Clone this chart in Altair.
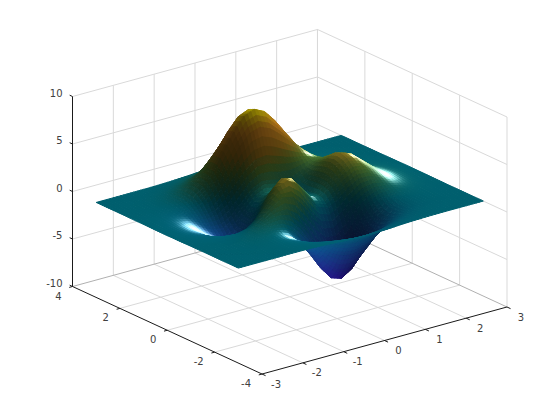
import altair as alt
import pandas as pd
import math

alt.data_transformers.disable_max_rows()

# surface samples, one row per x (-3 .. 3), one value per y (-3 .. 3), step 0.25
xs = [-3 + 0.25 * i for i in range(25)]
ys = [-3 + 0.25 * i for i in range(25)]
z_rows = [
[0,0,0,0,0,0,0,0,-.01,-.02,-.03,-.03,-.04,-.03,-.03,-.02,-.01,-.01,0,0,0,0,0,0,0],
[0,0,0,0,0,0,0,-.01,-.02,-.05,-.08,-.10,-.11,-.11,-.09,-.07,-.04,-.02,-.01,0,0,0,0,0,0],
[0,0,0,.01,.01,.01,.01,-.01,-.06,-.12,-.20,-.27,-.30,-.29,-.25,-.18,-.11,-.06,-.02,0,.01,.01,0,0,0],
[0,0,.01,.01,.02,.03,.03,-.01,-.10,-.25,-.44,-.60,-.69,-.67,-.57,-.42,-.25,-.12,-.03,.01,.02,.02,.01,0,0],
[0,.01,.01,.03,.05,.07,.08,.03,-.13,-.42,-.80,-1.14,-1.33,-1.32,-1.12,-.81,-.48,-.20,-.01,.07,.08,.06,.03,.01,.01],
[.01,.01,.02,.04,.07,.13,.19,.17,-.04,-.51,-1.16,-1.78,-2.14,-2.16,-1.85,-1.33,-.74,-.23,.11,.24,.23,.15,.08,.04,.01],
[0,0,0,.01,.05,.15,.33,.45,.30,-.28,-1.21,-2.16,-2.77,-2.87,-2.49,-1.76,-.86,-.05,.48,.65,.55,.36,.19,.08,.03],
[-.01,-.02,-.07,-.12,-.13,.02,.39,.83,.98,.49,-.60,-1.84,-2.71,-2.98,-2.64,-1.78,-.60,.55,1.27,1.43,1.16,.74,.39,.17,.06],
[-.03,-.10,-.23,-.44,-.59,-.46,.15,1.11,1.86,1.78,.80,-.57,-1.65,-2.15,-2.00,-1.16,.23,1.70,2.61,2.67,2.10,1.32,.69,.30,.11],
[-.08,-.22,-.52,-.99,-1.45,-1.48,-.68,.88,2.45,3.09,2.49,1.23,.06,-.65,-.76,-.05,1.51,3.29,4.37,4.29,3.31,2.07,1.07,.47,.17],
[-.14,-.39,-.91,-1.74,-2.64,-3.01,-2.18,-.14,2.22,3.63,3.55,2.56,1.48,.68,.39,1.04,2.79,4.92,6.19,5.96,4.56,2.84,1.46,.64,.23],
[-.20,-.56,-1.30,-2.51,-3.88,-4.70,-4.07,-1.85,.99,2.94,3.31,2.62,1.75,1.06,.79,1.55,3.59,6.07,7.54,7.22,5.51,3.43,1.77,.77,.28],
[-.25,-.68,-1.56,-3.02,-4.76,-5.98,-5.68,-3.61,-.73,1.40,2.00,1.58,.98,.52,.46,1.42,3.69,6.39,7.99,7.68,5.86,3.65,1.88,.82,.30],
[-.25,-.70,-1.60,-3.10,-4.93,-6.33,-6.32,-4.61,-2.02,0,.70,.52,.19,-.03,.09,1.12,3.34,5.94,7.48,7.20,5.50,3.43,1.77,.77,.28],
[-.22,-.61,-1.40,-2.72,-4.35,-5.64,-5.76,-4.40,-2.22,-.41,.39,.48,.37,.28,.37,1.17,2.94,5.02,6.25,5.99,4.57,2.84,1.46,.64,.23],
[-.17,-.46,-1.06,-2.05,-3.27,-4.24,-4.31,-3.22,-1.43,.20,1.14,1.50,1.57,1.47,1.34,1.65,2.66,3.97,4.72,4.45,3.37,2.09,1.07,.47,.17],
[-.11,-.30,-.69,-1.32,-2.10,-2.69,-2.63,-1.74,-.27,1.18,2.20,2.76,2.94,2.76,2.38,2.17,2.43,2.97,3.25,2.96,2.21,1.36,.70,.30,.11],
[-.06,-.17,-.38,-.73,-1.15,-1.42,-1.27,-.56,.58,1.79,2.76,3.37,3.58,3.36,2.83,2.32,2.08,2.09,2.05,1.78,1.29,.79,.40,.17,.06],
[-.03,-.08,-.18,-.35,-.53,-.61,-.44,.08,.88,1.78,2.56,3.09,3.27,3.06,2.56,1.99,1.58,1.35,1.18,.96,.68,.41,.20,.09,.03],
[-.01,-.03,-.08,-.14,-.20,-.20,-.07,.27,.77,1.35,1.88,2.25,2.37,2.22,1.85,1.40,1.04,.79,.62,.47,.32,.19,.09,.04,.01],
[0,-.01,-.03,-.05,-.06,-.04,.04,.23,.50,.82,1.12,1.34,1.41,1.32,1.09,.82,.58,.41,.29,.21,.13,.08,.04,.02,.01],
[0,0,-.01,-.01,-.01,0,.05,.13,.26,.41,.56,.67,.70,.66,.54,.40,.28,.19,.12,.08,.05,.03,.01,.01,0],
[0,0,0,0,0,.01,.03,.06,.11,.18,.24,.28,.30,.28,.23,.17,.11,.07,.05,.03,.02,.01,0,0,0],
[0,0,0,0,0,0,.01,.02,.04,.06,.09,.10,.11,.10,.08,.06,.04,.03,.02,.01,0,0,0,0,0],
[0,0,0,0,0,0,0,.01,.01,.02,.03,.03,.03,.03,.03,.02,.01,.01,0,0,0,0,0,0,0],
]
x_ticks = [-3, -2, -1, 0, 1, 2, 3]
y_ticks = [-4, -2, 0, 2, 4]
z_ticks = [-10, -5, 0, 5, 10]

# view of the box
CX, CY = 289.75, 201.75
AX, AY = 40.83, -11.17
BX, BY = -23.69, -10.94
CZ = -9.5

def sx(x, y, z):
    return CX + AX * x + BX * y

def sy(x, y, z):
    return CY + AY * x + BY * y + CZ * z

# colour seen on a level patch at each height
STOPS = [(-6.5, (34, 12, 120)), (-4, (28, 50, 140)), (-2, (14, 78, 140)), (0, (0, 95, 110)),
         (1, (25, 100, 80)), (2.5, (75, 110, 40)), (4, (150, 110, 25)), (6, (195, 125, 30)),
         (8, (175, 165, 0))]
S = 0.26
L = (0.45, 0.15, 0.88)
Hn = math.sqrt(0.62**2 + 0.2**2 + 1)
H = (0.62 / Hn, -0.2 / Hn, 1 / Hn)
AMB, DIF = 0.33, 0.67
SPEC, POW = 1.0, 55
SUB = 3  # shading patches per grid cell side, like a renderer's interpolated shading

def base(z):
    if z <= STOPS[0][0]:
        return STOPS[0][1]
    for (a, ca), (b, cb) in zip(STOPS, STOPS[1:]):
        if z <= b:
            t = (z - a) / (b - a)
            return tuple(ca[k] + (cb[k] - ca[k]) * t for k in range(3))
    return STOPS[-1][1]

def shade(zm, zx, zy):
    nx, ny, nz = -S * zx, -S * zy, 1.0
    m = math.sqrt(nx * nx + ny * ny + nz * nz)
    nx, ny, nz = nx / m, ny / m, nz / m
    d = max(nx * L[0] + ny * L[1] + nz * L[2], 0) / L[2]
    f = AMB + DIF * d
    s = SPEC * max(nx * H[0] + ny * H[1] + nz * H[2], 0) ** POW
    c = base(zm)
    rgb = [min(255, max(0, v * f + 255 * s)) for v in c]
    return "#%02x%02x%02x" % tuple(int(round(v)) for v in rgb)

n = len(xs)
def grad(i, j):
    a, b = max(i - 1, 0), min(i + 1, n - 1)
    c, d = max(j - 1, 0), min(j + 1, n - 1)
    return ((z_rows[b][j] - z_rows[a][j]) / (xs[b] - xs[a]),
            (z_rows[i][d] - z_rows[i][c]) / (ys[d] - ys[c]))
G = [[grad(i, j) for j in range(n)] for i in range(n)]

def bil(v00, v10, v11, v01, u, w):
    return v00 * (1 - u) * (1 - w) + v10 * u * (1 - w) + v11 * u * w + v01 * (1 - u) * w

rows = []
q = 0
for i in range(n - 2, -1, -1):
    for j in range(n - 2, -1, -1):
        a, b, c, d = z_rows[i][j], z_rows[i + 1][j], z_rows[i + 1][j + 1], z_rows[i][j + 1]
        ga, gb, gc, gd = G[i][j], G[i + 1][j], G[i + 1][j + 1], G[i][j + 1]
        for si in range(SUB - 1, -1, -1):
            for sj in range(SUB - 1, -1, -1):
                um, wm = (si + 0.5) / SUB, (sj + 0.5) / SUB
                col = shade(bil(a, b, c, d, um, wm),
                            bil(ga[0], gb[0], gc[0], gd[0], um, wm),
                            bil(ga[1], gb[1], gc[1], gd[1], um, wm))
                for k, (du, dw) in enumerate([(0, 0), (1, 0), (1, 1), (0, 1), (0, 0)]):
                    u, w = (si + du) / SUB, (sj + dw) / SUB
                    x = xs[i] + (xs[i + 1] - xs[i]) * u
                    y = ys[j] + (ys[j + 1] - ys[j]) * w
                    z = bil(a, b, c, d, u, w)
                    rows.append({"q": q, "k": k, "px": round(sx(x, y, z), 2),
                                 "py": round(sy(x, y, z), 2), "c": col})
                q += 1
surface_df = pd.DataFrame(rows)

def segs(pairs):
    out = []
    for p, r in pairs:
        out.append({"px": sx(*p), "py": sy(*p), "px2": sx(*r), "py2": sy(*r)})
    return pd.DataFrame(out)

x0, x1, y0, y1, z0, z1 = -3, 3, -4, 4, -10, 10
grid_pairs = []
for x in x_ticks:
    if x != x0:
        grid_pairs.append(((x, y1, z0), (x, y1, z1)))
    if x != x0 and x != x1:
        grid_pairs.append(((x, y0, z0), (x, y1, z0)))
for y in y_ticks:
    grid_pairs.append(((x1, y, z0), (x1, y, z1)))
    if y != y0 and y != y1:
        grid_pairs.append(((x0, y, z0), (x1, y, z0)))
for z in z_ticks:
    if z != z0:
        grid_pairs.append(((x0, y1, z), (x1, y1, z)))
        grid_pairs.append(((x1, y0, z), (x1, y1, z)))
edge_pairs = [((x0, y1, z0), (x1, y1, z0)), ((x1, y0, z0), (x1, y1, z0))]
axis_pairs = [((x0, y1, z0), (x0, y1, z1)), ((x0, y0, z0), (x0, y1, z0)), ((x0, y0, z0), (x1, y0, z0))]
for x in x_ticks:
    axis_pairs.append(((x, y0, z0), (x, y0 - 0.15, z0)))
for y in y_ticks:
    axis_pairs.append(((x0, y, z0), (x0 - 0.08, y, z0)))
for z in z_ticks:
    axis_pairs.append(((x0, y1, z), (x0, y1 + 0.12, z)))

def labels(items):
    return pd.DataFrame([{"px": sx(*p), "py": sy(*p), "t": str(t)} for p, t in items])

X = alt.X("px:Q", axis=None, scale=alt.Scale(domain=[8, 552], nice=False, zero=False))
Y = alt.Y("py:Q", axis=None, scale=alt.Scale(domain=[412, 8], nice=False, zero=False))

def rule(df, color, w):
    return alt.Chart(df).mark_rule(color=color, strokeWidth=w).encode(
        x=X, y=Y, x2="px2:Q", y2="py2:Q")

def text(df, **kw):
    return alt.Chart(df).mark_text(font="DejaVu Sans", fontSize=10, color="#404040", **kw).encode(
        x=X, y=Y, text="t:N")

surface = alt.Chart(surface_df).mark_line(strokeWidth=1).encode(
    x=X, y=Y,
    detail="q:N",
    order="k:Q",
    fill=alt.Fill("c:N", scale=None),
    stroke=alt.Stroke("c:N", scale=None),
)

chart = alt.layer(
    rule(segs(grid_pairs), "#d9d9d9", 1),
    rule(segs(edge_pairs), "#b0b0b0", 1),
    surface,
    rule(segs(axis_pairs), "#1a1a1a", 1),
    text(labels([((x0, y1, z), z) for z in z_ticks]), align="right", baseline="middle", dx=-10, dy=-3),
    text(labels([((x0, y, z0), y) for y in y_ticks]), align="right", baseline="middle", dx=-11, dy=10),
    text(labels([((x, y0, z0), x) for x in x_ticks]), align="center", baseline="middle", dx=14, dy=10.5),
).properties(width=544, height=404, padding=0, autosize=alt.AutoSizeParams(type="none")
).configure_view(stroke=None)

chart.save("out.html", embed_options={"renderer": "svg", "actions": False})
